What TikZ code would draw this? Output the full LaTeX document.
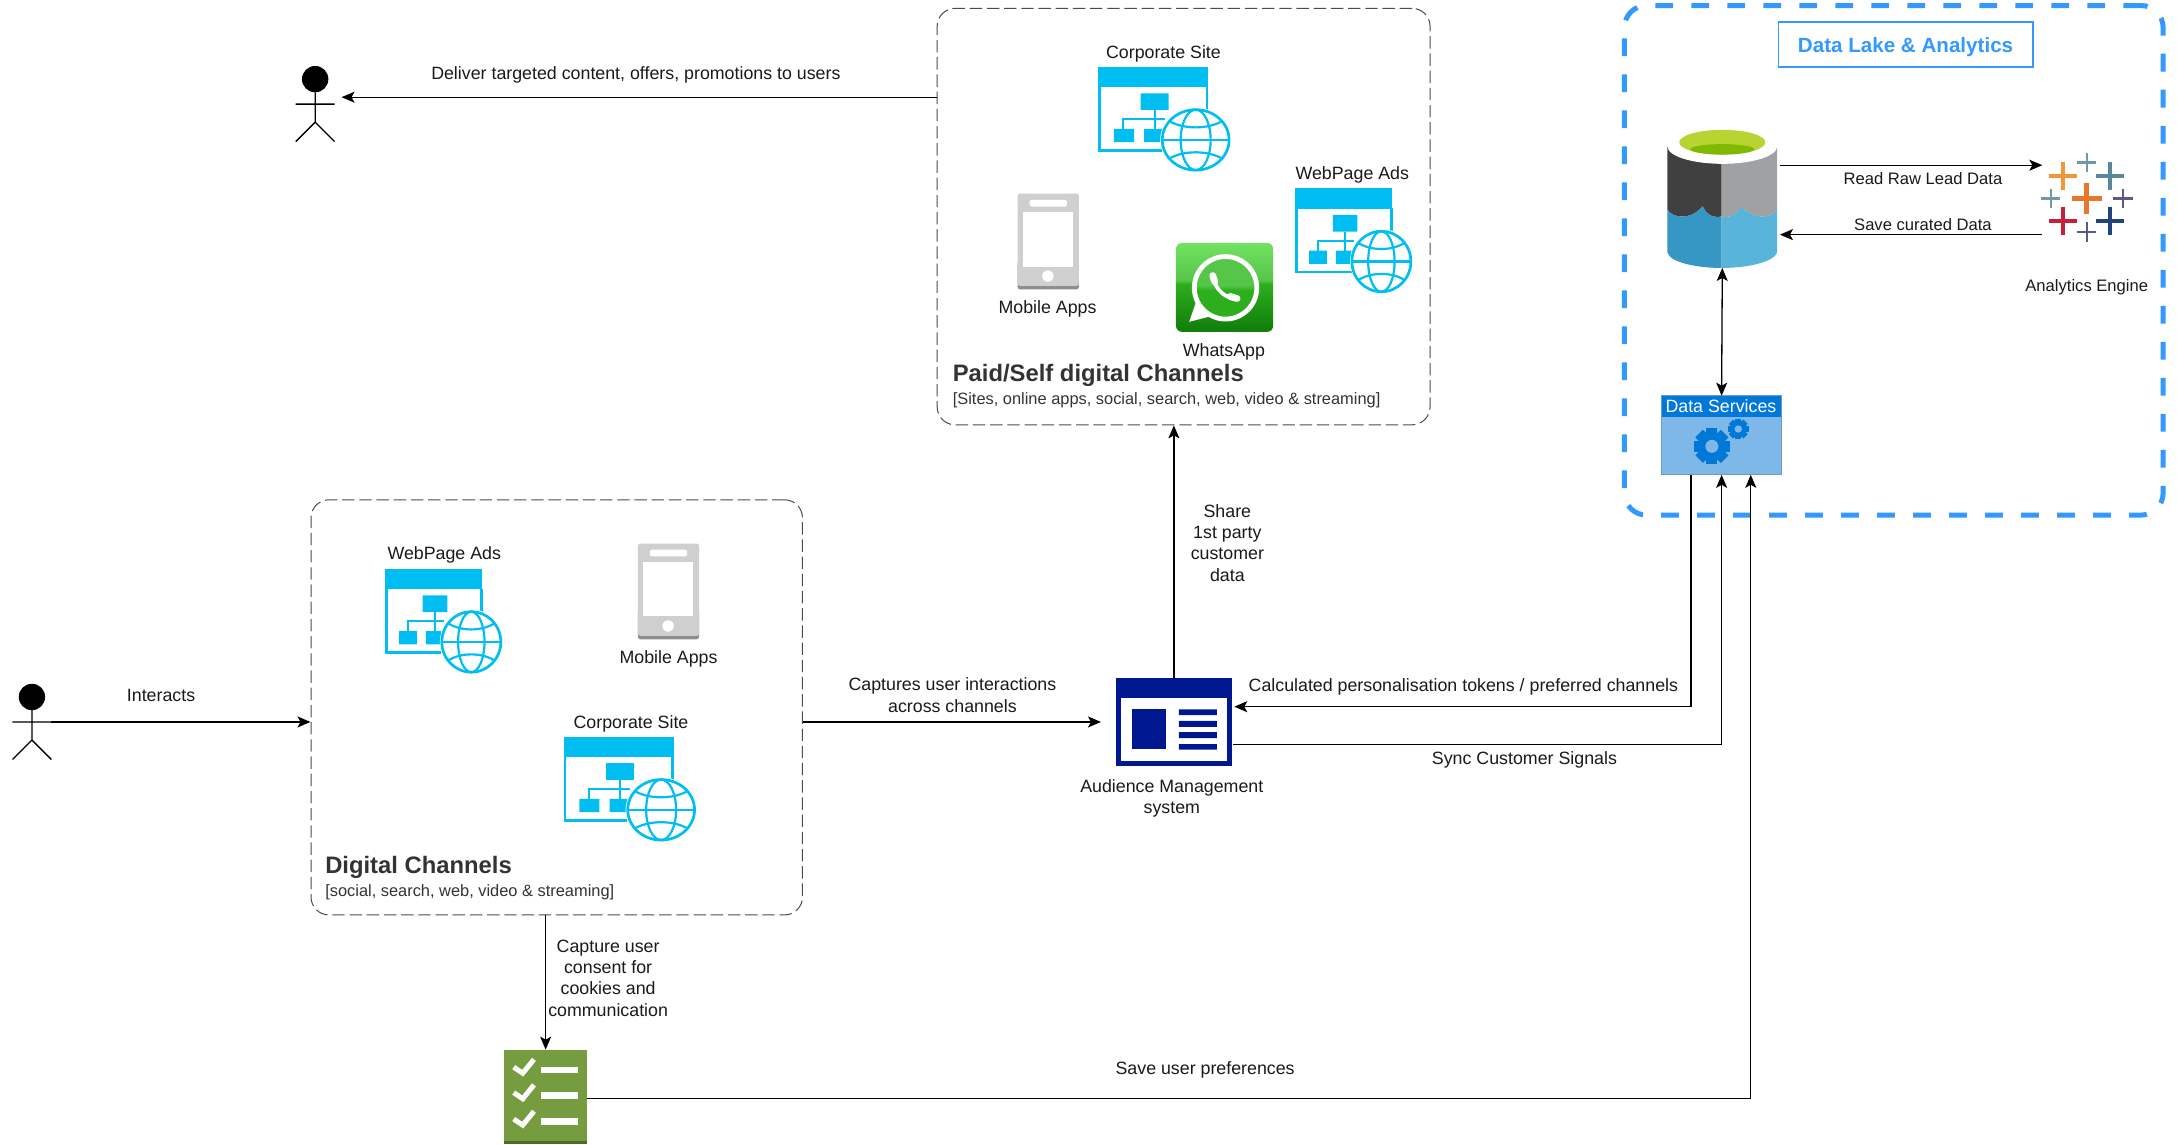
\documentclass[tikz,border=0pt]{standalone}
\usepackage{fontspec}
\setmainfont{Liberation Sans}
\usetikzlibrary{arrows.meta,calc}
\definecolor{cy}{HTML}{00BEF2}
\definecolor{lakeb}{HTML}{3399FF}
\definecolor{dsh}{HTML}{0078D7}
\definecolor{dsb}{HTML}{7DB8E8}
\definecolor{amsc}{HTML}{00188F}
\definecolor{chkc}{HTML}{759C3E}
\definecolor{chkd}{HTML}{4B6B26}
\definecolor{phg}{HTML}{CFCFCF}
\definecolor{phd}{HTML}{8E8E8E}
\definecolor{txt}{HTML}{1A1A1A}
\definecolor{ttl}{HTML}{333333}
\definecolor{wa1}{HTML}{72E262}
\definecolor{wa2}{HTML}{55C648}
\definecolor{wa3}{HTML}{2DAE1D}
\definecolor{wa4}{HTML}{0F7D0A}
\definecolor{cyl1}{HTML}{404040}
\definecolor{cyl2}{HTML}{A0A1A3}
\definecolor{cyl3}{HTML}{3797C4}
\definecolor{cyl4}{HTML}{59B4D9}
\definecolor{cyl5}{HTML}{B8D432}
\definecolor{cyl6}{HTML}{7FBA00}
\definecolor{tbo}{HTML}{E8762D}
\definecolor{tbl}{HTML}{F0973A}
\definecolor{tbt}{HTML}{5B879B}
\definecolor{tbr}{HTML}{C72037}
\definecolor{tbn}{HTML}{1F447E}
\definecolor{tbs}{HTML}{7099A6}
\definecolor{tbp}{HTML}{59598F}
\pgfdeclareverticalshading{wabox}{100bp}{color(0bp)=(wa4); color(25bp)=(wa4); color(52bp)=(wa3); color(54bp)=(wa2); color(75bp)=(wa1); color(100bp)=(wa1)}
\pgfdeclareverticalshading{wabub}{100bp}{color(0bp)=(wa3); color(48bp)=(wa3); color(52bp)=(wa2); color(100bp)=(wa2)}
\def\u{0.6942pt}
\tikzset{
  arr/.style={draw=black,line width=.65pt,-{Stealth[length=6.5pt,width=5.5pt,inset=1.5pt]}},
  darr/.style={draw=black,line width=.65pt,{Stealth[length=6.5pt,width=5.5pt,inset=1.5pt]}-{Stealth[length=6.5pt,width=5.5pt,inset=1.5pt]}},
  lbl/.style={text=txt,align=center,inner sep=0pt,yshift=-.7pt,font=\fontsize{8.9}{10.7}\selectfont},
  slbl/.style={text=txt,align=center,inner sep=0pt,yshift=-.4pt,font=\fontsize{8.3}{10}\selectfont},
  ttlt/.style={text=ttl,anchor=west,inner sep=0pt,yshift=-.7pt,font=\fontsize{11.9}{13}\selectfont\bfseries},
  subt/.style={text=ttl,anchor=west,inner sep=0pt,yshift=-.7pt,font=\fontsize{8.2}{10}\selectfont},
  gbox/.style={draw=black!70,line width=.5pt,dash pattern=on 6.2pt off 2.4pt,rounded corners=9pt,inner sep=0pt},
  lakebox/.style={draw=lakeb,line width=2.5pt,dash pattern=on 8.9pt off 9.1pt,rounded corners=11pt,inner sep=0pt},
  anch/.style={inner sep=0pt,outer sep=0pt},
  actor/.pic={
    \fill[black] (0,-16) circle (9.5);
    \draw[black,line width=.65pt] (0,-6.5) -- (0,15) (-14,2) -- (14,2) (-14,29) -- (0,15) -- (14,29);
  },
  webicon/.pic={
    \fill[cy] (0,0) rectangle (.829,.197);
    \draw[cy,line width=1.2pt] (.01,.19) -- (.01,.8) -- (.48,.8) (.822,.19) -- (.822,.42);
    \fill[cy] (.32,.254) rectangle (.53,.413) (.118,.594) rectangle (.27,.72) (.347,.594) rectangle (.48,.72);
    \draw[cy,line width=1pt] (.425,.413) -- (.425,.594) (.19,.594) -- (.19,.498) -- (.5,.498);
    \fill[white] (.735,.698) ellipse [x radius=.268,y radius=.31];
    \draw[cy,line width=1.35pt] (.735,.698) ellipse [x radius=.252,y radius=.288];
    \draw[cy,line width=1.1pt] (.735,.698) ellipse [x radius=.113,y radius=.288];
    \draw[cy,line width=1.1pt] (.483,.698) -- (.987,.698);
    \draw[cy,line width=1.1pt] (.53,.515) .. controls (.64,.6) and (.83,.6) .. (.94,.515);
    \draw[cy,line width=1.1pt] (.53,.88) .. controls (.64,.795) and (.83,.795) .. (.94,.88);
  },
  phoneicon/.pic={
    \fill[phd,rounded corners=1.2pt] (0,1.1) rectangle (1,1.567);
    \fill[phg,rounded corners=1.2pt] (0,0) rectangle (1,1.51);
    \fill[white] (.083,.305) rectangle (.906,1.194);
    \fill[white,rounded corners=.8pt] (.194,.1) rectangle (.806,.211);
    \fill[white] (.494,1.35) circle (.094);
  },
  gear/.pic={
    \foreach \a in {0,45,90,135}{\fill[dsh,rotate=\a] (-.3,-1) rectangle (.3,1);}
    \fill[dsh] (0,0) circle (.8);
    \fill[dsb] (0,0) circle (.36);
  },
}
\begin{document}
\begin{tikzpicture}[x=\u,y=-\u]
\useasboundingbox (0,0) rectangle (1568,824);
\fill[white] (0,0) rectangle (1568,824);

% containers
\node[gbox,minimum width=355*\u,minimum height=300*\u] (paid) at (852.5,156) {};
\node[gbox,minimum width=354*\u,minimum height=299*\u] (dig) at (401,509.5) {};
\node[lakebox,minimum width=388*\u,minimum height=367*\u] (lake) at (1364,187.5) {};
\node[draw=lakeb,line width=.9pt,inner sep=0pt,minimum width=183*\u,minimum height=32*\u,text height=8pt,text depth=0pt,text=lakeb,font=\fontsize{10.3}{12}\selectfont\bfseries] (laket) at (1372.5,32) {Data Lake \& Analytics};

% actors
\node[anch,minimum width=38*\u,minimum height=64*\u] (actora) at (227,70) {};
\pic at (227,73) {actor};
\node[anch,minimum width=28*\u,minimum height=60*\u] (actorb) at (23,520) {};
\pic at (23,518) {actor};

% web icons
\pic[xscale=95.5,yscale=75.6] at (791,48) {webicon};
\pic[xscale=84.3,yscale=75.6] at (933,135.6) {webicon};
\pic[xscale=84.3,yscale=75.6] at (277.5,409.6) {webicon};
\pic[xscale=95.5,yscale=75.6] at (406,530.5) {webicon};
\node[lbl] (l1) at (838,38) {Corporate Site};
\node[lbl] (l2) at (974,125) {WebPage Ads};
\node[lbl] (l3) at (320,399) {WebPage Ads};
\node[lbl] (l4) at (454.5,520.5) {Corporate Site};

% phones
\pic[scale=44] at (733,139.5) {phoneicon};
\pic[scale=44] at (459.5,391.5) {phoneicon};
\node[lbl] (l5) at (754.5,221.5) {Mobile Apps};
\node[lbl] (l6) at (481.5,473.5) {Mobile Apps};

% whatsapp
\shade[shading=wabox,rounded corners=3pt] (847,175) rectangle (917,239);
\fill[white] (862,216) -- (856.5,231.8) -- (875,227) -- cycle;
\shade[shading=wabub] (882.7,207.3) circle (22.5);
\draw[white,line width=2.4pt] (882.7,207.3) circle (22.5);
\draw[white,line width=1.9pt] (874.5,201) .. controls (875.5,209) and (883,215) .. (891,215.5);
\draw[white,line width=3.4pt,line cap=round] (873.5,198.5) -- (875,203);
\draw[white,line width=3.4pt,line cap=round] (886,213.5) -- (891,215);
\node[lbl] (l7) at (881.5,252.5) {WhatsApp};

% channel titles
\node[ttlt] (t1) at (686,269.5) {Paid/Self digital Channels};
\node[subt] (t2) at (686,287.5) {[Sites, online apps, social, search, web, video \& streaming]};
\node[ttlt] (t3) at (234,623.5) {Digital Channels};
\node[subt] (t4) at (234,641.5) {[social, search, web, video \& streaming]};

% audience management system
\node[anch,minimum width=83*\u,minimum height=64*\u] (ams) at (845.5,520) {};
\fill[amsc] (804,488) rectangle (887,552);
\fill[white] (807.6,503) rectangle (883.4,548.2);
\fill[amsc] (815,511) rectangle (840,539.8);
\fill[amsc] (849,511) rectangle (876.5,515) (849,519.2) rectangle (876.5,523.6) (849,527.4) rectangle (876.5,531.6) (849,536) rectangle (876.5,540);
\node[lbl] (l8) at (844,574) {Audience Management\\system};
\coordinate (amsl) at (793,520);
\coordinate (amsin) at (889,509);
\coordinate (amsout) at (888,536);

% checklist
\node[anch,minimum width=60*\u,minimum height=70*\u] (chk) at (393,791) {};
\fill[chkc] (363,756) rectangle (423,824);
\fill[chkd] (363,822) rectangle (423,824);
\foreach \y in {770.6,789,808}{
  \draw[white,line width=2.5pt] (370,\y-2) -- (376.5,\y+2.4) -- (384.6,\y-7.6);
  \fill[white] (389.6,\y-2.4) rectangle (416.5,\y+2.4);
}

% data lake cylinder
\node[anch,minimum width=79*\u,minimum height=100*\u] (dl) at (1240.5,143) {};
\fill[cyl1] (1201,106) -- (1201,151) .. controls (1204,157) and (1218,159) .. (1226.3,148.6) .. controls (1230,156) and (1235,157) .. (1240,156) -- (1240,106) -- cycle;
\fill[cyl2] (1280,106) -- (1280,151) .. controls (1277,157) and (1263,159) .. (1254,148.6) .. controls (1250,156) and (1245,157) .. (1240,156) -- (1240,106) -- cycle;
\fill[cyl3] (1201,151) .. controls (1204,157) and (1218,159) .. (1226.3,148.6) .. controls (1230,156) and (1235,157) .. (1240,156) -- (1240,193) .. controls (1222,193) and (1203,189) .. (1201,182) -- cycle;
\fill[cyl4] (1280,151) .. controls (1277,157) and (1263,159) .. (1254,148.6) .. controls (1250,156) and (1245,157) .. (1240,156) -- (1240,193) .. controls (1258,193) and (1277,189) .. (1280,182) -- cycle;
\fill[white] (1240.5,105.5) ellipse [x radius=39.5,y radius=12.5];
\fill[cyl5] (1240.5,102.5) ellipse [x radius=31,y radius=9];
\begin{scope}
  \clip (1240.5,102.5) ellipse [x radius=31,y radius=9];
  \fill[cyl6] (1240.5,107.5) ellipse [x radius=23,y radius=3.7];
\end{scope}

% data services
\node[anch,fill=dsb,draw=dsb!85!black,line width=.5pt,minimum width=86*\u,minimum height=57*\u] (ds) at (1240,313.5) {};
\fill[dsh] (1197,285) rectangle (1283,300);
\node[lbl,text=white] (l9) at (1239.5,291.2) {Data Services};
\pic[scale=13] at (1233,321.5) {gear};
\pic[scale=7.4] at (1252,309) {gear};
\coordinate (dsa) at (1218,342);
\coordinate (dsc) at (1261,342);

% tableau
\node[anch,minimum width=64*\u,minimum height=64*\u] (tab) at (1503,143) {};
\foreach \cx/\cy/\r/\w/\c in {1503/143/11/2.4/tbo,1486/126.5/10/1.9/tbl,1520/126.5/10/1.9/tbt,1486/159/10/1.9/tbr,1520/159/10/1.9/tbn,1503/117/7/1.1/tbs,1477/143/7/1.1/tbs,1529/143/7/1.1/tbp,1503/167/7/1.1/tbp}{
  \draw[\c,line width=\w pt] (\cx-\r,\cy) -- (\cx+\r,\cy) (\cx,\cy-\r) -- (\cx,\cy+\r);
}
\node[slbl] (l10) at (1503,206) {Analytics Engine};
\coordinate (rdA) at (1282,119);
\coordinate (rdB) at (1471,119);
\coordinate (svA) at (1471,169);
\coordinate (svB) at (1282,169);

% connectors
\draw[arr] (actora.east -| paid.west) -- (actora.east);
\draw[arr] (actorb.east) -- (actorb.east -| dig.west);
\draw[arr] (ams.west -| dig.east) -- (amsl);
\draw[arr] (ams.north) -- (ams.north |- paid.south);
\draw[arr] (dsa) |- (amsin);
\draw[arr] (amsout) -| (ds.south);
\draw[arr] (chk.east) -| (dsc);
\draw[arr] (chk.north |- dig.south) -- (chk.north);
\draw[darr] (dl.south) -- (ds.north);
\draw[arr] (rdA) -- (rdB);
\draw[arr] (svA) -- (svB);

% connector labels
\node[lbl] (c1) at (458,53) {Deliver targeted content, offers, promotions to users};
\node[lbl] (c2) at (116,500) {Interacts};
\node[lbl] (c3) at (686,499.8) {Captures user interactions\\across channels};
\node[lbl] (c4) at (884,390) {Share\\1st party\\customer\\data};
\node[lbl] (c5) at (1054,494) {Calculated personalisation tokens / preferred channels};
\node[lbl] (c6) at (1098,546) {Sync Customer Signals};
\node[lbl] (c7) at (868,769.5) {Save user preferences};
\node[lbl] (c8) at (438,703.5) {Capture user\\consent for\\cookies and\\communication};
\node[slbl] (c9) at (1385,127.8) {Read Raw Lead Data};
\node[slbl] (c10) at (1385,161.5) {Save curated Data};
\end{tikzpicture}
\end{document}
